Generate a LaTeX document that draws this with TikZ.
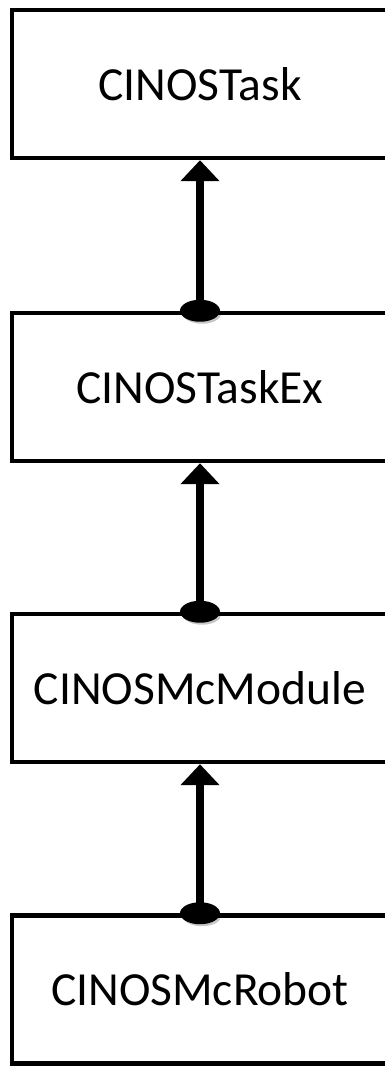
\documentclass[tikz,border=0pt]{standalone}
\usepackage{fontspec}
\setmainfont{Carlito}
\usetikzlibrary{arrows.meta}
\tikzset{
  classbox/.style={draw=black, line width=4.5pt, fill=white, rectangle,
    minimum width=376pt, minimum height=148pt, inner sep=0pt,
    font=\fontsize{47.5}{57}\selectfont},
  inherit/.style={line width=8pt, -{Triangle[width=38pt,length=21pt]}},
  joint/.style={fill=black},
  jointshadow/.style={fill=black, opacity=0.22}
}
\begin{document}
\begin{tikzpicture}[x=1pt,y=1pt]
  \useasboundingbox (0,0) rectangle (385,1066);
  \clip (0,0) rectangle (385,1066);
  % class boxes, top to bottom
  \node[classbox] (task)   at (200,982) {CINOSTask};
  \node[classbox] (taskex) at (200,679) {CINOSTaskEx};
  \node[classbox] (module) at (200,378) {CINOSMcModule};
  \node[classbox] (robot)  at (200,76.5) {CINOSMcRobot};
  % inheritance arrows with a filled joint on the derived class
  \foreach \lo/\hi in {taskex/task, module/taskex, robot/module}{
    \fill[jointshadow] ([xshift=2pt,yshift=-3pt]\lo.north) ellipse (19pt and 10pt);
    \draw[inherit] (\lo.north) -- (\hi.south);
    \fill[joint] (\lo.north) ellipse (20pt and 11pt);
  }
\end{tikzpicture}
\end{document}
